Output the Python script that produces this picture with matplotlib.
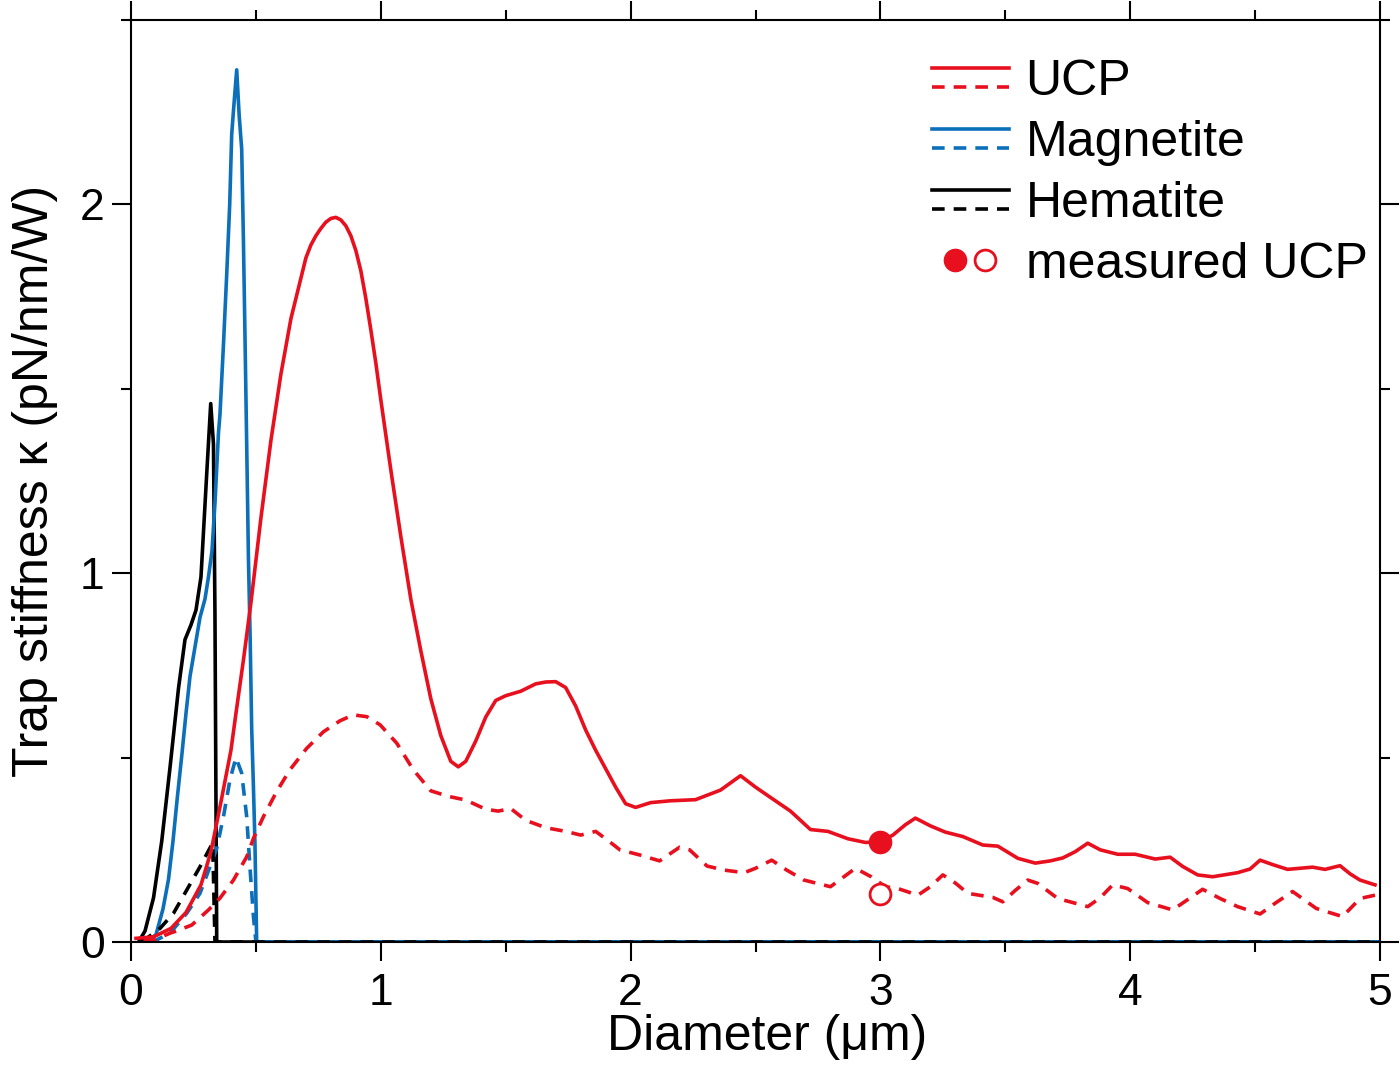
import numpy as np
import matplotlib
matplotlib.use("Agg")
import matplotlib.pyplot as plt
from matplotlib.lines import Line2D
from matplotlib.legend_handler import HandlerBase, HandlerTuple
from matplotlib.ticker import MultipleLocator

plt.rcParams['font.family'] = ['Liberation Sans', 'DejaVu Sans']

# --- data (diameter in um, stiffness in pN/nm/W) ---
ucp_x = [0.02, 0.09, 0.16, 0.22, 0.28, 0.32, 0.36, 0.40, 0.42, 0.45, 0.48, 0.52, 0.56,
         0.60, 0.64, 0.68, 0.70, 0.72, 0.74, 0.76, 0.78, 0.80, 0.82, 0.84, 0.86, 0.88,
         0.90, 0.92, 0.94, 0.96, 0.98, 1.00, 1.04,
         1.08, 1.12, 1.16, 1.20, 1.24, 1.28, 1.31, 1.34, 1.38, 1.42, 1.46, 1.50, 1.56,
         1.62, 1.66, 1.70, 1.74, 1.78, 1.82, 1.86, 1.90, 1.94, 1.98, 2.02, 2.08, 2.16,
         2.26, 2.36, 2.44, 2.50, 2.56, 2.64, 2.72, 2.79, 2.87, 2.94, 3.00, 3.05, 3.10,
         3.14, 3.20, 3.26, 3.33, 3.41, 3.47, 3.55, 3.62, 3.68, 3.73, 3.78, 3.83, 3.88,
         3.95, 4.02, 4.10, 4.16, 4.21, 4.27, 4.33, 4.43, 4.48, 4.52, 4.57, 4.63, 4.73,
         4.78, 4.84, 4.88, 4.92, 4.98]
ucp_solid = [0.01, 0.014, 0.037, 0.08, 0.155, 0.245, 0.38, 0.52, 0.62, 0.765, 0.92, 1.15, 1.36,
             1.54, 1.69, 1.80, 1.855, 1.89, 1.915, 1.935, 1.952, 1.962, 1.965, 1.958, 1.942, 1.915,
             1.875, 1.82, 1.745, 1.66, 1.57, 1.47, 1.28,
             1.10, 0.93, 0.79, 0.66, 0.56, 0.49, 0.475, 0.49, 0.545, 0.61, 0.655, 0.668, 0.68,
             0.70, 0.705, 0.706, 0.69, 0.64, 0.575, 0.52, 0.47, 0.42, 0.375, 0.365, 0.378, 0.383,
             0.386, 0.412, 0.451, 0.42, 0.392, 0.355, 0.305, 0.30, 0.28, 0.27, 0.272, 0.29, 0.318,
             0.336, 0.315, 0.298, 0.286, 0.263, 0.26, 0.227, 0.214, 0.22, 0.228, 0.245, 0.268, 0.25,
             0.238, 0.238, 0.225, 0.23, 0.205, 0.182, 0.177, 0.188, 0.198, 0.222, 0.21, 0.197, 0.203,
             0.197, 0.207, 0.185, 0.168, 0.155]

ucp_dash_x = [0.05, 0.09, 0.156, 0.19, 0.243, 0.31, 0.356, 0.41, 0.463, 0.49, 0.53, 0.583,
              0.636, 0.703, 0.77, 0.837, 0.89, 0.944, 0.997, 1.064, 1.13, 1.2, 1.27, 1.34,
              1.42, 1.47, 1.52, 1.58, 1.66, 1.74, 1.80, 1.86, 1.91, 1.957, 2.037, 2.116,
              2.196, 2.236, 2.306, 2.375, 2.455, 2.50, 2.565, 2.625, 2.694, 2.80, 2.90, 2.963,
              3.02, 3.07, 3.15, 3.20, 3.25, 3.30, 3.35, 3.45, 3.49, 3.54, 3.59, 3.63, 3.71,
              3.83, 3.88, 3.93, 3.99, 4.07, 4.17, 4.23, 4.29, 4.36, 4.43, 4.52, 4.58, 4.65,
              4.745, 4.85, 4.92, 4.98]
ucp_dash = [0.003, 0.005, 0.024, 0.032, 0.046, 0.087, 0.119, 0.168, 0.231, 0.281, 0.34, 0.408,
            0.467, 0.525, 0.57, 0.60, 0.616, 0.611, 0.589, 0.539, 0.467, 0.41, 0.395, 0.385,
            0.36, 0.355, 0.362, 0.33, 0.31, 0.30, 0.29, 0.30, 0.275, 0.25, 0.236, 0.22,
            0.257, 0.25, 0.206, 0.195, 0.188, 0.20, 0.222, 0.195, 0.168, 0.15, 0.20, 0.177,
            0.15, 0.145, 0.127, 0.15, 0.182, 0.16, 0.132, 0.121, 0.109, 0.14, 0.168, 0.159, 0.118,
            0.096, 0.12, 0.155, 0.145, 0.107, 0.087, 0.115, 0.143, 0.118, 0.096, 0.076, 0.105, 0.137,
            0.091, 0.069, 0.118, 0.127]

mag_x = [0.06, 0.10, 0.128, 0.15, 0.168, 0.185, 0.203, 0.22, 0.236, 0.256, 0.276, 0.296,
         0.31, 0.324, 0.336, 0.35, 0.356, 0.37, 0.383, 0.395, 0.403, 0.413, 0.423, 0.433,
         0.443, 0.45, 0.456, 0.463, 0.47, 0.477, 0.483, 0.49, 0.496, 0.503, 5.0]
mag_solid = [0.0, 0.02, 0.09, 0.17, 0.274, 0.39, 0.505, 0.62, 0.72, 0.80, 0.88, 0.93,
             0.99, 1.06, 1.19, 1.38, 1.43, 1.62, 1.81, 2.0, 2.19, 2.28, 2.365, 2.24,
             2.15, 1.9, 1.65, 1.35, 1.04, 0.82, 0.58, 0.42, 0.27, 0.0, 0.0]

mag_dash_x = [0.08, 0.10, 0.156, 0.223, 0.276, 0.316, 0.343, 0.37, 0.396, 0.42, 0.443,
              0.463, 0.476, 0.49, 0.50, 5.0]
mag_dash = [0.0, 0.005, 0.024, 0.078, 0.132, 0.204, 0.254, 0.34, 0.44, 0.50, 0.458,
            0.34, 0.204, 0.069, 0.0, 0.0]

hem_x = [0.03, 0.056, 0.09, 0.123, 0.156, 0.19, 0.216, 0.24, 0.26, 0.28, 0.303, 0.319,
         0.33, 0.336, 0.343, 5.0]
hem_solid = [0.0, 0.03, 0.12, 0.274, 0.473, 0.688, 0.82, 0.86, 0.90, 0.99, 1.27, 1.46,
             1.35, 0.887, 0.0, 0.0]

hem_dash_x = [0.04, 0.063, 0.116, 0.17, 0.223, 0.276, 0.316, 0.327, 0.336, 5.0]
hem_dash = [0.0, 0.01, 0.037, 0.078, 0.141, 0.204, 0.255, 0.268, 0.0, 0.0]

meas_x = [3.0]
meas_solid = [0.27]
meas_dash = [0.13]

red = '#e8101e'
blue = '#0b6fba'
black = '#000000'
lw = 2.6
dash = (0, (3.5, 2.5))


class PairHandler(HandlerBase):
    # solid line on top, dashed line below, like the original legend
    def create_artists(self, legend, orig_handle, xdescent, ydescent,
                       width, height, fontsize, trans):
        c = orig_handle.get_color()
        yc = height / 2 - ydescent
        off = 0.19 * fontsize
        xs = [-xdescent, -xdescent + width]
        a = Line2D(xs, [yc + off] * 2, color=c, lw=lw, transform=trans)
        b = Line2D(xs, [yc - off] * 2, color=c, lw=lw, linestyle=dash, transform=trans)
        return [a, b]


fig = plt.figure(figsize=(14, 10.66), dpi=100)
ax = fig.add_axes([0.0936, 0.1163, 0.8921, 0.8649])

h_hem, = ax.plot(hem_x, hem_solid, color=black, lw=lw)
h_mag, = ax.plot(mag_x, mag_solid, color=blue, lw=lw)
ax.plot(mag_dash_x, mag_dash, color=blue, lw=lw, linestyle=dash)
ax.plot(hem_dash_x, hem_dash, color=black, lw=lw, linestyle=dash)
h_ucp, = ax.plot(ucp_x, ucp_solid, color=red, lw=lw)
ax.plot(ucp_dash_x, ucp_dash, color=red, lw=lw, linestyle=dash)

m1, = ax.plot(meas_x, meas_solid, 'o', color=red, markersize=16, zorder=5)
m2, = ax.plot(meas_x, meas_dash, 'o', markerfacecolor='white', markeredgecolor=red,
              markeredgewidth=2, markersize=15, zorder=5)

ax.set_xlim(0, 5)
ax.set_ylim(0, 2.5)
ax.xaxis.set_major_locator(MultipleLocator(1))
ax.xaxis.set_minor_locator(MultipleLocator(0.5))
ax.yaxis.set_major_locator(MultipleLocator(1))
ax.yaxis.set_minor_locator(MultipleLocator(0.5))
ax.tick_params(which='both', direction='out', top=True, right=True, width=1.5)
ax.tick_params(which='major', length=14, labelsize=32)
ax.tick_params(which='minor', length=7)
ax.tick_params(axis='x', pad=8)
ax.tick_params(axis='y', pad=5)
for s in ax.spines.values():
    s.set_linewidth(1.5)

ax.set_xlabel('Diameter (μm)', fontsize=36, labelpad=0)
ax.xaxis.label.set_x(0.509)
ax.set_ylabel('Trap stiffness κ (pN/nm/W)', fontsize=36, labelpad=16)

ax.legend([h_ucp, h_mag, h_hem, (m1, m2)],
          ['UCP', 'Magnetite', 'Hematite', 'measured UCP'],
          handler_map={h_ucp: PairHandler(), h_mag: PairHandler(), h_hem: PairHandler(),
                       tuple: HandlerTuple(ndivide=None, pad=-0.36)},
          loc='upper left', bbox_to_anchor=(0.641, 0.958), frameon=False,
          fontsize=36, handlelength=1.55, handletextpad=0.33, labelspacing=0.3,
          borderpad=0, borderaxespad=0, numpoints=1)

fig.savefig('out.png', dpi=100)
